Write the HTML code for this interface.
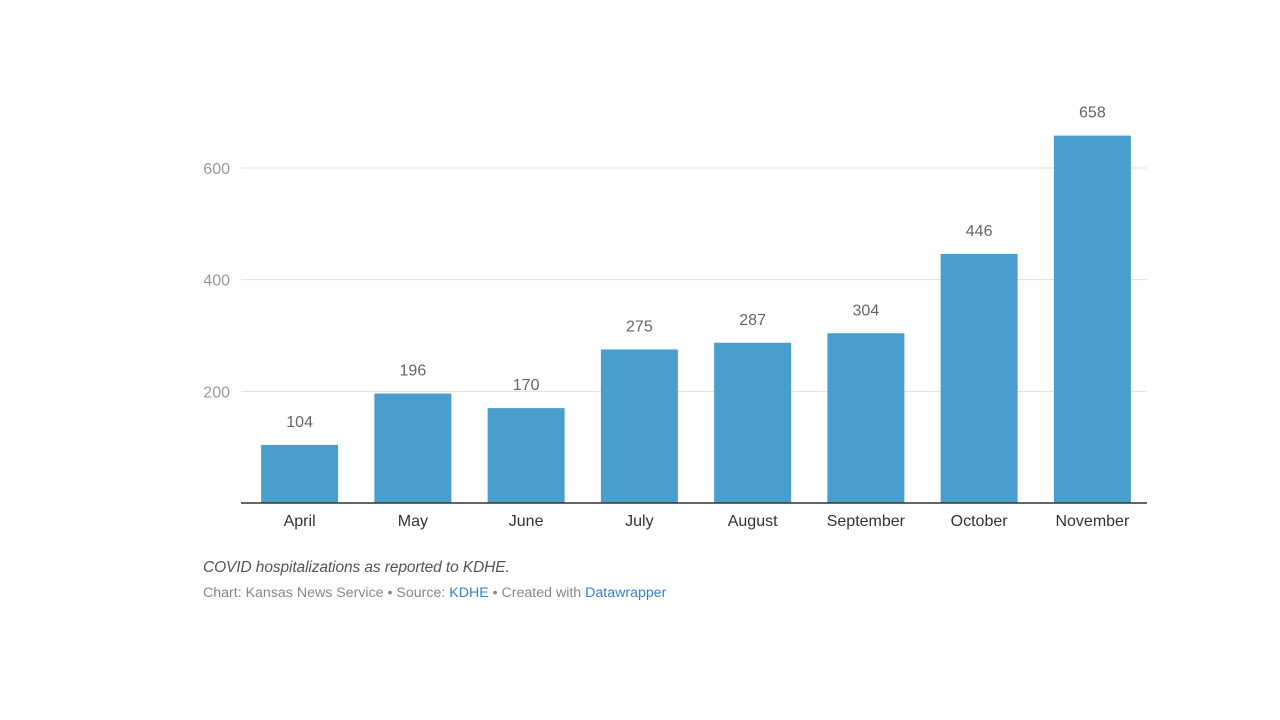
<!DOCTYPE html>
<html><head><meta charset="utf-8"><style>
body{margin:0;width:1280px;height:720px;background:#fff;font-family:"Liberation Sans",sans-serif;overflow:hidden}
svg{position:absolute;left:0;top:0}
.cap{position:absolute;left:203px;top:559px;font-size:15.5px;font-style:italic;color:#555;letter-spacing:-0.1px}
.src{position:absolute;left:203px;top:585px;font-size:14.2px;color:#888}
.src a{color:#3a80c5;text-decoration:none}
</style></head><body>
<svg id="chart" width="1280" height="720"></svg>
<div class="cap">COVID hospitalizations as reported to KDHE.</div>
<div class="src">Chart: Kansas News Service • Source: <a>KDHE</a> • Created with <a>Datawrapper</a></div>
<script>
const categories=["April","May","June","July","August","September","October","November"];
const values=[104,196,170,275,287,304,446,658];
const ticks=[200,400,600];
const NS="http://www.w3.org/2000/svg";
const svg=document.getElementById('chart');
const x0=241,x1=1147,y0=503,pxPer=335/600;
const band=(x1-x0)/categories.length,bw=77;
const y=v=>y0-v*pxPer;
const xc=i=>x0+2+band*(i+0.5);
function mk(t,a){const e=document.createElementNS(NS,t);for(const k in a)e.setAttribute(k,a[k]);svg.appendChild(e);return e;}
ticks.forEach(t=>{
 const l=mk('line',{x1:x0,x2:x1,y1:y(t),y2:y(t),stroke:'#e0e0e0','stroke-width':1});
 
 
 const tx=mk('text',{x:230,y:y(t)+6,'text-anchor':'end','font-size':16,fill:'#999'});
 tx.textContent=t;
 
 
});
categories.forEach((c,i)=>{
 const v=values[i];
 const r=mk('rect',{x:xc(i)-bw/2,y:y(v),width:bw,height:y0-y(v),fill:'#4a9ecd'});
 
 
 const vl=mk('text',{x:xc(i),y:y(v)-18,'text-anchor':'middle','font-size':16,fill:'#666'});
 vl.textContent=v;
 
 
 const cl=mk('text',{x:xc(i),y:526,'text-anchor':'middle','font-size':16,fill:'#333'});
 cl.textContent=c;
 
 
});
const ax=mk('line',{x1:x0,x2:x1,y1:y0,y2:y0,stroke:'#333','stroke-width':1.5});


</script>
</body></html>
